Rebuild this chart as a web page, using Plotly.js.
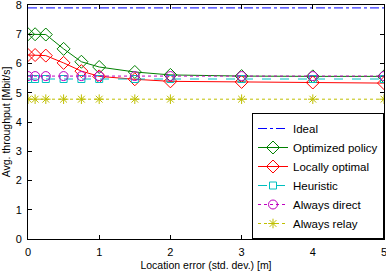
<!DOCTYPE html>
<html><head><meta charset="utf-8">
<script src="https://cdn.plot.ly/plotly-3.0.1.min.js"></script>
<style>body{margin:0;padding:0;background:#fff}#c{width:386px;height:271px}</style>
</head><body><div id="c"></div>
<script>
var xErr = [0, 0.1, 0.25, 0.5, 0.75, 1, 1.5, 2, 3, 4, 5];
var ideal = [7.9, 7.9, 7.9, 7.9, 7.9, 7.9, 7.9, 7.9, 7.9, 7.9, 7.9];
var optimized = [7.0, 7.0, 6.99, 6.5, 6.06, 5.88, 5.71, 5.61, 5.57, 5.56, 5.56];
var localOpt = [6.29, 6.29, 6.27, 6.02, 5.74, 5.56, 5.46, 5.39, 5.37, 5.35, 5.33];
var heuristic = [5.47, 5.47, 5.47, 5.47, 5.47, 5.47, 5.47, 5.47, 5.47, 5.47, 5.47];
var direct = [5.57, 5.57, 5.57, 5.57, 5.57, 5.57, 5.57, 5.57, 5.57, 5.57, 5.57];
var relay = [4.78, 4.78, 4.78, 4.78, 4.78, 4.78, 4.78, 4.78, 4.78, 4.78, 4.78];
var xTicks = [0, 1, 2, 3, 4, 5];
var yTicks = [0, 1, 2, 3, 4, 5, 6, 7, 8];
var names = ['Ideal', 'Optimized policy', 'Locally optimal', 'Heuristic', 'Always direct', 'Always relay'];

var traces = [
 {x: xErr, y: ideal, name: names[0], mode: 'lines', line: {color: '#0000ff', dash: 'dashdot', width: 1}},
 {x: xErr, y: optimized, name: names[1], mode: 'lines+markers', line: {color: '#008000', width: 1}, marker: {symbol: 'diamond-open', size: 10, color: '#008000', line: {width: 1}}},
 {x: xErr, y: localOpt, name: names[2], mode: 'lines+markers', line: {color: '#ff0000', width: 1}, marker: {symbol: 'diamond-open', size: 10, color: '#ff0000', line: {width: 1}}},
 {x: xErr, y: heuristic, name: names[3], mode: 'lines+markers', line: {color: '#00bfbf', dash: 'dash', width: 1}, marker: {symbol: 'square-open', size: 7, color: '#00bfbf', line: {width: 1}}},
 {x: xErr, y: direct, name: names[4], mode: 'lines+markers', line: {color: '#bf00bf', dash: 'dot', width: 1}, marker: {symbol: 'circle-open', size: 9, color: '#bf00bf', line: {width: 1}}},
 {x: xErr, y: relay, name: names[5], mode: 'lines+markers', line: {color: '#bfbf00', dash: 'dot', width: 1}, marker: {symbol: 'asterisk-open', size: 8, color: '#bfbf00', line: {width: 1, color: '#bfbf00'}}}
];

var axisCommon = {showgrid: false, zeroline: false, showline: true, linecolor: '#000', linewidth: 1, mirror: 'ticks', ticks: 'inside', ticklen: 4, tickcolor: '#000', ticklabeloverflow: 'allow', ticklabelstandoff: 3, automargin: false, tickmode: 'array', tickfont: {family: 'Liberation Sans, Arial, sans-serif', size: 11, color: '#000'}};

var layout = {
 width: 386, height: 271,
 margin: {l: 28, r: 2, t: 5, b: 32},
 paper_bgcolor: '#fff', plot_bgcolor: '#fff',
 showlegend: true,
 xaxis: Object.assign({}, axisCommon, {range: [0, 5], tickvals: xTicks, ticktext: xTicks.map(String),
   title: {text: 'Location error (std. dev.) [m]', font: {family: 'Liberation Sans, Arial, sans-serif', size: 10.5, color: '#000'}, standoff: 4}}),
 yaxis: Object.assign({}, axisCommon, {range: [0, 8], tickvals: yTicks, ticktext: yTicks.map(String),
   title: {text: 'Avg. throughput [Mbit/s]', font: {family: 'Liberation Sans, Arial, sans-serif', size: 10.5, color: '#000'}, standoff: 4}}),
 legend: {x: 1, xanchor: 'right', y: 0, yanchor: 'bottom', bordercolor: '#000', borderwidth: 1, bgcolor: '#fff',
   font: {family: 'Liberation Sans, Arial, sans-serif', size: 11.5, color: '#000'}, tracegroupgap: 0, itemwidth: 30}
};

Plotly.newPlot('c', traces, layout, {staticPlot: true, displayModeBar: false});
</script></body></html>
